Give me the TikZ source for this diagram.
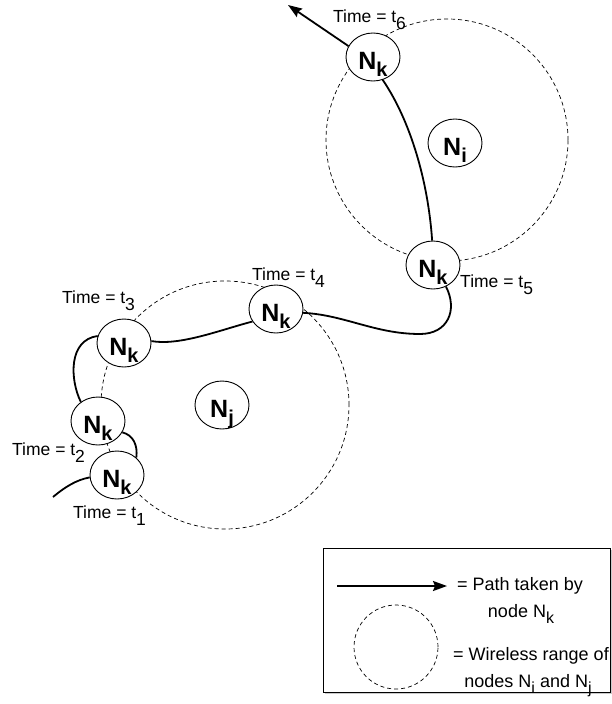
\documentclass[tikz,border=0pt]{standalone}
\usepackage{fontspec}
\setmainfont{Liberation Sans}
\usetikzlibrary{arrows.meta,shapes.geometric,shadows}
\newcommand{\tsub}[1]{\raisebox{-7pt}{#1}}
\newcommand{\lsub}[1]{\raisebox{-6pt}{\fontsize{16}{18}\selectfont #1}}
\newcommand{\Nsub}[1]{N\raisebox{-6.5pt}{\fontsize{20}{22}\selectfont #1}}
\begin{document}
\begin{tikzpicture}[x=1pt,y=-1pt,
  nk/.style={ellipse, draw, line width=0.9pt, fill=white, minimum width=54pt, minimum height=48pt,
    inner sep=0pt, text height=25.5pt, text depth=0pt, font=\fontsize{25}{27}\selectfont\bfseries},
  wrange/.style={dash pattern=on 4pt off 3pt, line width=0.7pt},
  track/.style={line width=1.8pt},
  tiparrow/.style={-{Stealth[length=14pt,width=10pt,inset=2pt]}},
  tlab/.style={anchor=base west, inner sep=0pt, font=\fontsize{17.5}{20}\selectfont},
  leg/.style={anchor=base, inner sep=0pt, font=\fontsize{18}{21}\selectfont}]
\useasboundingbox (0,0) rectangle (612,704);
% wireless ranges
\draw[wrange] (447,140) circle[radius=121pt];
\draw[wrange] (225,405) circle[radius=124pt];
% nodes
\node[nk] (k6) at (373,57) {\Nsub{k}};
\node[nk] (k5) at (433,265) {\Nsub{k}};
\node[nk] (k4) at (276,309) {\Nsub{k}};
\node[nk] (k3) at (124,343) {\Nsub{k}};
\node[nk] (k2) at (98,421) {\Nsub{k}};
\node[nk] (k1) at (117,475) {\Nsub{k}};
\node[nk] (ni) at (455,143) {\Nsub{i}};
\node[nk] (nj) at (222,405) {\Nsub{j}};
% path of node Nk
\coordinate (start) at (53,497);
\coordinate (end) at (288,5);
\draw[track] (start) .. controls (65,487) and (76,480) .. (k1.185);
\draw[track] (k1.42) .. controls (138,445) and (133,435) .. (k2.-25);
\draw[track] (k2.132) .. controls (70,380) and (68,340) .. (k3.165);
\draw[track] (k3.4) .. controls (180,346) and (220,330) .. (k4.208);
\draw[track] (k4.352) .. controls (345,315) and (375,334) .. (420,334)
  .. controls (448,334) and (458,310) .. (k5.301);
\draw[track] (k5.92) .. controls (428,180) and (410,120) .. (k6.293);
\draw[track,tiparrow] (k6.156) -- (end);
% time labels
\node[tlab] (T6) at (333,22) {Time = t\tsub{6}};
\node[tlab] (T5) at (460,287) {Time = t\tsub{5}};
\node[tlab] (T4) at (252,280) {Time = t\tsub{4}};
\node[tlab] (T3) at (62,303) {Time = t\tsub{3}};
\node[tlab] (T2) at (12,455) {Time = t\tsub{2}};
\node[tlab] (T1) at (73,518) {Time = t\tsub{1}};
% legend
\node[draw, line width=1pt, fill=white, minimum width=287pt, minimum height=144pt, inner sep=0pt,
  drop shadow={shadow xshift=1.5pt, shadow yshift=-1.5pt, fill=gray!70, opacity=0.6}] (legend) at (466.5,620) {};
\coordinate (la) at (337,586);
\coordinate (lb) at (447,586);
\draw[track,tiparrow] (la) -- (lb);
\draw[wrange] (396,647) circle[radius=42pt];
\node[leg] (l1) at (520,590) {= Path taken by};
\node[leg] (l2) at (521,617) {node N\lsub{k}};
\node[leg] (l3) at (531,660) {= Wireless range of};
\node[leg] (l4) at (528,687) {nodes N\lsub{i} and N\lsub{j}};
\end{tikzpicture}
\end{document}
